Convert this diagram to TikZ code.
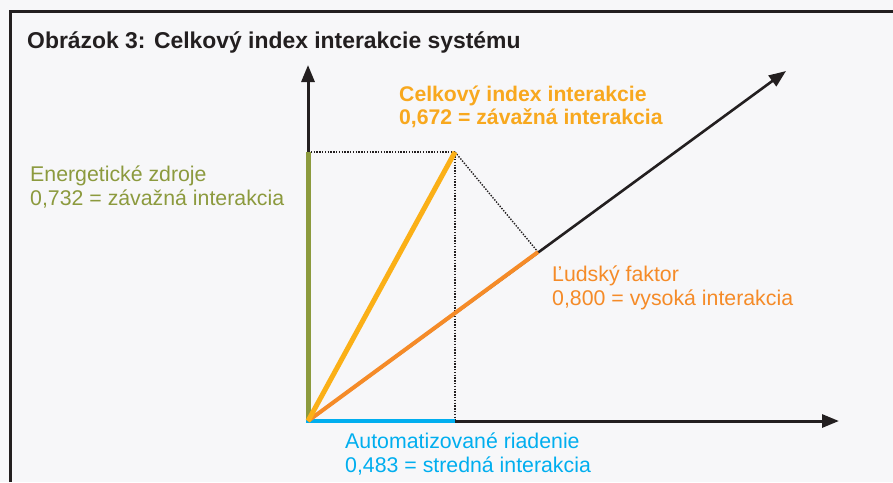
\documentclass[tikz,border=0pt]{standalone}
\usepackage{fontspec}
\setmainfont{Liberation Sans}
\usetikzlibrary{arrows.meta}
\definecolor{bgc}{HTML}{F7F7F9}
\definecolor{framec}{HTML}{231F20}
\definecolor{olivec}{HTML}{8C9A3E}
\definecolor{cyanc}{HTML}{00AEEF}
\definecolor{orangec}{HTML}{F58B28}
\definecolor{yellowc}{HTML}{FBB017}
\definecolor{yellowtxt}{HTML}{F8A81E}
\begin{document}
\begin{tikzpicture}[x=1pt,y=-1pt,
  axis/.style={draw=framec, -{Triangle[length=17pt,width=13pt]}},
  dotline/.style={draw=framec, line width=1.4pt, dash pattern=on 1.4pt off 1.4pt},
  lbl/.style={inner sep=0pt, align=left, anchor=base west, font=\fontsize{21.3}{23.8}\selectfont},
  boldlbl/.style={inner sep=0pt, align=left, anchor=base west, font=\bfseries\fontsize{21.2}{23}\selectfont}]
\fill[bgc] (0,0) rectangle (893,482);
\useasboundingbox (0,0) rectangle (893,482);
% frame
\draw[framec, line width=3pt] (10,482) -- (10,11) -- (893,11);
% coordinates
\coordinate (O) at (308,421);
\coordinate (ytip) at (308,65);
\coordinate (xtip) at (839,421);
\coordinate (dtip) at (786,71);
\coordinate (e) at (308,152);
\coordinate (a) at (455,421);
\coordinate (t) at (455,152);
\coordinate (h) at (538,252);
% axes
\draw[axis, line width=3pt] (O) -- (ytip);
\draw[axis, line width=3pt] (O) -- (xtip);
\draw[axis, line width=2.6pt] (O) -- (dtip);
% dotted guides
\draw[dotline] (e) -- (t) -- (a);
\draw[dotline] (t) -- (h);
% coloured components
\draw[olivec, line width=5pt] (O) -- (e);
\draw[cyanc, line width=4.5pt] ([xshift=-2.5pt]O) -- (a);
\draw[orangec, line width=4pt] (O) -- (h);
\draw[yellowc, line width=5pt] (O) -- (t);
% texts
\node[inner sep=0pt, anchor=base west, text=framec, font=\bfseries\fontsize{22.9}{26}\selectfont] (title) at (27,48.3) {Obrázok 3: Celkový index interakcie systému};
\node[boldlbl, text=yellowtxt] (total) at (399,124) {Celkový index interakcie\\0,672 = závažná interakcia};
\node[lbl, text=olivec] (energy) at (30,205.7) {Energetické zdroje\\0,732 = závažná interakcia};
\node[lbl, text=orangec] (human) at (552,305.7) {Ľudský faktor\\0,800 = vysoká interakcia};
\node[lbl, text=cyanc] (auto) at (345,472.7) {Automatizované riadenie\\0,483 = stredná interakcia};
\end{tikzpicture}
\end{document}
